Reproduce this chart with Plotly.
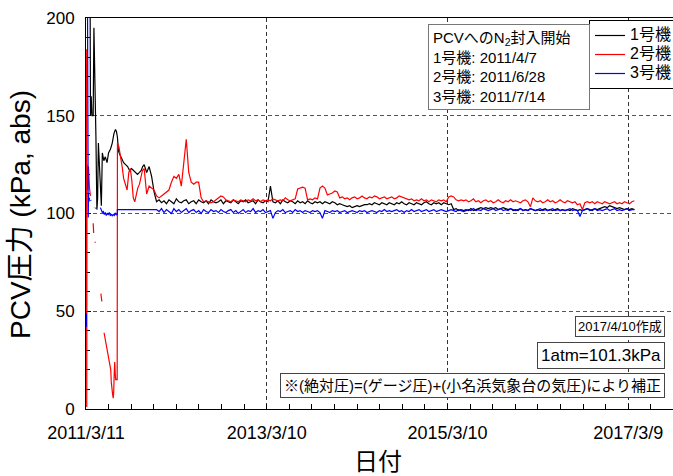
import pandas as pd
import plotly.graph_objects as go

# ---------------- data ----------------
# Early period (irregular sampling), kPa abs
u1_early_dates = ["2011-03-23", "2011-03-27", "2011-03-29", "2011-04-01", "2011-04-04", "2011-04-09",
                  "2011-04-12", "2011-04-16", "2011-04-20", "2011-04-24", "2011-04-27", "2011-04-30",
                  "2011-05-04", "2011-05-08", "2011-05-12", "2011-05-16", "2011-05-22", "2011-05-28",
                  "2011-06-04", "2011-06-10", "2011-06-18", "2011-06-25", "2011-07-02", "2011-07-08",
                  "2011-07-12", "2011-07-16", "2011-07-20", "2011-07-26", "2011-08-02", "2011-08-10",
                  "2011-08-18", "2011-08-26", "2011-09-03", "2011-09-11", "2011-09-19", "2011-09-27",
                  "2011-10-05", "2011-10-13", "2011-10-20", "2011-10-26"]
u1_early_vals = [260, 240, 150, 160, 150, 150, 195, 175, 140, 102, 108, 136,
                 125, 110, 104, 131, 127, 129, 126, 131, 133, 136, 141, 143,
                 142, 139, 132, 130, 128, 126, 125, 124, 122, 123, 122, 121,
                 120, 121, 122, 124]

u2_early_dates = ["2011-03-12", "2011-03-13", "2011-03-14", "2011-03-15", "2011-03-18", "2011-03-21",
                  "2011-03-25", "2011-03-29", "2011-04-02", "2011-04-09", "2011-04-11", "2011-04-14",
                  "2011-04-16", "2011-04-18", "2011-04-25", "2011-05-10", "2011-05-14", "2011-05-18",
                  "2011-05-23", "2011-05-27", "2011-05-30", "2011-06-04", "2011-06-09", "2011-06-13",
                  "2011-06-16", "2011-06-19", "2011-06-21", "2011-06-23", "2011-06-26", "2011-06-29",
                  "2011-07-01", "2011-07-03", "2011-07-05", "2011-07-07", "2011-07-09", "2011-07-15",
                  "2011-07-16", "2011-07-22", "2011-07-28", "2011-08-04", "2011-08-10", "2011-08-17",
                  "2011-08-24", "2011-08-31", "2011-09-06", "2011-09-12", "2011-09-18", "2011-09-24",
                  "2011-09-30", "2011-10-06", "2011-10-13", "2011-10-19", "2011-10-25"]
u2_early_vals = [184, 170, 1, 125, 112, 124,
                 113, 109, None, 95, 90, None,
                 85.5, 85, None, 59, 55, None,
                 39, 36, 34, 30, 27, 25,
                 22, 20, 14, 10, 8, 5.5,
                 9, 18, 24, 18, 15, 15,
                 136, 134, 130, 124, 118, 115,
                 112, 121, 123, 117, 108, 106,
                 110, 113, 115, 118, 122]

u3_early_dates = ["2011-03-12 00:00", "2011-03-12 12:00", "2011-03-13 00:00", "2011-03-14 00:00",
                  "2011-03-16 00:00", "2011-03-18 00:00",
                  "2011-03-19 00:00", "2011-03-20 00:00", "2011-03-21 00:00", "2011-03-23 00:00",
                  "2011-03-25 00:00", "2011-03-27 00:00",
                  "2011-03-30 00:00", "2011-03-31 00:00", "2011-04-03 00:00", "2011-04-12 00:00",
                  "2011-04-13 00:00", "2011-04-16 00:00",
                  "2011-04-19 00:00", "2011-04-20 00:00", "2011-04-24 00:00", "2011-05-08 00:00",
                  "2011-05-12 00:00", "2011-05-16 00:00",
                  "2011-05-20 00:00", "2011-05-24 00:00", "2011-05-28 00:00", "2011-06-01 00:00",
                  "2011-06-05 00:00", "2011-06-09 00:00",
                  "2011-06-13 00:00", "2011-06-17 00:00", "2011-06-21 00:00", "2011-06-25 00:00",
                  "2011-06-29 00:00", "2011-07-03 00:00",
                  "2011-07-07 00:00", "2011-07-11 00:00", "2011-07-15 00:00", "2011-07-16 00:00"]
u3_early_vals = [42, 49, None, 320, 240, 200,
                 150, 98, 110, 106, 108, None,
                 107, 106.5, None, 103, 103, None,
                 103, 102.5, None, 103, 101, 100.5,
                 101, 99.5, 100.5, 99, 100, 99.5,
                 100.5, 99, 99.5, 98.8, 99.5, 99,
                 100, 99.3, 99.5, 102]

# Later period: one reading every 10 days from 2011/11/1
grid_start = "2011-11-01"
grid_step = "10D"

u1_grid = [125, 121, 124, 119, 111, 106, 107, 105.5, 106.5, 105,
           107, 106, 105, 107.5, 106, 105.5, 106.5, 107, 105, 106,
           106.5, 105, 107, 106, 105.5, 106.5, 105, 107, 106, 105.5,
           106, 107, 105, 106.5, 106, 105.5, 107, 106, 105, 106.5,
           106, 107, 105.5, 106, 106.5, 105, 107, 106, 105.5, 106.5,
           106, 114, 106, 105.5, 106.5, 105, 107, 106, 105.5, 106.5,
           106, 105, 106.5, 105.5, 106, 105, 106.5, 105.5, 105, 106,
           105.5, 106, 105, 106, 105.5, 105, 106, 105.5, 104.5, 105,
           104.5, 104, 103.5, 104, 103, 103.5, 104, 103.5, 104, 104.5,
           104.5, 105, 104.5, 105.5, 105, 104.5, 105.5, 105, 104.5, 105.5,
           105, 104.5, 105.5, 105, 106, 105, 104.5, 105.5, 105, 104.5,
           105.5, 105, 104.5, 105.5, 106, 105, 104.5, 105.5, 105, 105.5,
           104.5, 105.5, 105, 104.5, 105, 102, 102.5, 101.5, 102, 101.5,
           102, 101.5, 102.5, 101.5, 102, 102.5, 103, 102.5, 103, 102.5,
           103, 102.5, 103, 102, 102.5, 103, 102.5, 102, 102.5, 101.5,
           102, 101.5, 102.5, 101.5, 102, 101.5, 102.5, 102, 101.5, 102,
           101.5, 102, 102.5, 101.5, 102, 101.5, 102, 102.5, 101.5, 102,
           101.5, 102, 101.5, 102.5, 102, 101.5, 102, 101.5, 102, 102.5,
           102, 101.5, 102.5, 102, 102.5, 103, 103.5, 103, 104, 103.5,
           103, 102.5, 103, 102.5, 102, 102.5, 102, 102.5, 102]

u2_grid = [123, 110, 114, 113, 112, 109, 108, 109, 110, 111,
           112, 116, 119, 118, 120, 114, 127, 138, 121, 116,
           115, 116, 116, 108, 106, 106.5, 106, 105.5, 106, 107,
           108, 109, 108.5, 107, 106.5, 106, 107, 106.5, 106, 107,
           106.5, 106, 107, 106.5, 107.5, 106.5, 107, 106, 107, 106.5,
           107, 106.5, 107.5, 107, 106.5, 107, 106.5, 108, 107, 106.5,
           107, 107.5, 112.5, 113, 113.5, 113, 107, 107.5, 107, 108,
           107.5, 113, 114, 113, 109.5, 110, 110.5, 111.5, 111, 108,
           108.5, 107.5, 108, 107, 108, 108.5, 107.5, 108, 109, 108,
           107.5, 108.5, 108, 109, 108.5, 107.5, 108, 108.5, 107.5, 108,
           108.5, 107.5, 108, 109, 108.5, 108, 107.5, 107, 107.5, 106.5,
           107, 106.5, 107.5, 106.5, 107, 106, 107, 106.5, 106, 107,
           106.5, 107, 106, 108.5, 109, 108.5, 107, 106.5, 107, 106.5,
           107, 106, 106.5, 107.5, 106, 106.5, 105.5, 106.5, 107, 106,
           106.5, 105.5, 106, 107, 106, 105.5, 106.5, 106, 107, 106,
           106.5, 106, 105.5, 106.5, 107, 106, 103.5, 108, 106.5, 106,
           106.5, 105.5, 106, 107, 106, 106.5, 105.5, 106, 107, 106,
           105.5, 106.5, 106, 105.5, 106, 104.5, 105, 102, 105.5, 106,
           105.5, 106, 105, 106, 105.5, 105, 106, 105.5, 105, 105.5,
           106, 105, 105.5, 105, 106, 105.5, 105, 106, 106.5]

u3_grid = [102, 102, 102, 102, 102, 102, 101, 102.5, 100.5, 102,
           101, 100, 102.5, 101, 102, 100.5, 101.5, 102.5, 100.5, 101.5,
           102, 100.5, 101.5, 100, 102, 101, 100.5, 102, 101, 101.5,
           100.5, 102, 101, 100.5, 101.5, 102, 100.5, 101.5, 100, 101,
           102, 100.5, 101.5, 101, 102.5, 100.5, 101.5, 101, 102, 100.5,
           101, 101.5, 97.5, 100.5, 101.5, 101, 102, 100.5, 101, 101.5,
           100.5, 102, 101, 101.5, 100.5, 101.5, 101, 100.5, 101.5, 101,
           101.5, 100.5, 97.5, 101.5, 101, 100.5, 101.5, 101, 101.5, 100.5,
           101, 101.5, 100.5, 101, 101.5, 101, 100.5, 101.5, 101, 101.5,
           100.5, 101, 101.5, 101, 100.5, 101.5, 101, 102, 101, 101.5,
           101, 101.5, 102, 101, 101.5, 100.5, 101.5, 101, 102, 101,
           101.5, 102, 101, 101.5, 102, 101, 101.5, 102, 101, 101.5,
           102, 101.5, 101, 101.5, 102, 101.5, 101, 102, 101.5, 101,
           101.5, 102, 101.5, 102.5, 101.5, 102, 101.5, 102.5, 102, 101.5,
           102, 102.5, 101.5, 102, 102.5, 101.5, 102, 101.5, 102.5, 102,
           101.5, 102, 102.5, 101.5, 102, 101.5, 102.5, 102, 101.5, 102,
           102.5, 101.5, 102, 101.5, 102, 102.5, 101.5, 102, 101.5, 102,
           101.5, 102, 102.5, 101.5, 102, 101.5, 98.5, 101.5, 102, 102.5,
           101.5, 102, 102.5, 101.5, 102, 101.5, 102, 102.5, 101.5, 102,
           102.5, 101.5, 102, 101.5, 102, 102.5, 101.5, 102, 102]

series_names = ["1号機", "2号機", "3号機"]
series_colors = ["#000000", "#ff0000", "#0000ff"]

x_tick_dates = ["2011-03-11", "2013-03-10", "2015-03-10", "2017-03-09"]
x_tick_labels = ["2011/3/11", "2013/3/10", "2015/3/10", "2017/3/9"]
x_range = ["2011-03-11", "2017-09-06"]
y_range = [0, 200]

note_n2 = "PCVへのN<sub>2</sub>封入開始<br>1号機: 2011/4/7<br>2号機: 2011/6/28<br>3号機: 2011/7/14"
note_date = "2017/4/10作成"
note_atm = "1atm=101.3kPa"
note_corr = "※(絶対圧)=(ゲージ圧)+(小名浜気象台の気圧)により補正"
y_title = "PCV圧力 (kPa, abs)"
x_title = "日付"


# ---------------- build ----------------
def build(early_dates, early_vals, grid_vals):
    gd = pd.date_range(grid_start, periods=len(grid_vals), freq=grid_step)
    ed = pd.to_datetime(early_dates, format="mixed")
    xs = list(ed.strftime("%Y-%m-%d %H:%M")) + list(gd.strftime("%Y-%m-%d %H:%M"))
    ys = list(early_vals) + list(grid_vals)
    return xs, ys


series = [build(u1_early_dates, u1_early_vals, u1_grid),
          build(u2_early_dates, u2_early_vals, u2_grid),
          build(u3_early_dates, u3_early_vals, u3_grid)]

FONT = "Liberation Sans, Arial, Noto Sans CJK JP, sans-serif"

fig = go.Figure()
for (xs, ys), nm, col in zip(series, series_names, series_colors):
    fig.add_trace(go.Scatter(x=xs, y=ys, mode="lines",
                             name="<span style='font-size:16px'>" + nm + "</span>",
                             line=dict(color=col, width=1.2), connectgaps=False))

W, H = 673, 476
L, R, T, B = 86, 0, 18, 67
PW, PH = W - L - R, H - T - B


def px(xp):
    return (xp - L) / PW


def py(yp):
    return (H - B - yp) / PH


fig.update_layout(
    width=W, height=H,
    margin=dict(l=L, r=R, t=T, b=B, autoexpand=False),
    paper_bgcolor="white", plot_bgcolor="white",
    font=dict(family=FONT, color="black"),
    legend=dict(x=px(589), y=py(20), xanchor="left", yanchor="top",
                bordercolor="black", borderwidth=1, bgcolor="white",
                font=dict(size=12, family=FONT), itemwidth=30, tracegroupgap=0),
)

fig.update_xaxes(
    type="date", range=x_range,
    tickmode="array", tickvals=x_tick_dates, ticktext=x_tick_labels,
    ticks="inside", ticklen=5, tickcolor="black",
    showline=True, linecolor="black", linewidth=1, mirror=True,
    showgrid=True, gridcolor="#333333", gridwidth=1, griddash="4px,3px",
    tickfont=dict(size=18, family=FONT), ticklabelstandoff=7,
    zeroline=False, layer="below traces", automargin=False,
    minor=dict(tickmode="linear", tick0="2011-03-11", dtick=91.25 * 86400000,
               ticks="inside", ticklen=5, tickcolor="black", showgrid=False),
)
fig.update_yaxes(
    range=y_range, tickmode="linear", tick0=0, dtick=50,
    ticks="inside", ticklen=5, tickcolor="black",
    showline=True, linecolor="black", linewidth=1, mirror=False,
    showgrid=True, gridcolor="#555555", gridwidth=1, griddash="4px,3px",
    tickfont=dict(size=17, family=FONT), ticklabelstandoff=7,
    zeroline=False, layer="below traces", automargin=False,
    minor=dict(tickmode="linear", tick0=0, dtick=10,
               ticks="inside", ticklen=4, tickcolor="black", showgrid=False),
)

ann = [
    dict(text=note_n2, x=px(428), y=py(24), xanchor="left", yanchor="top", align="left",
         width=152, font=dict(size=15), bordercolor="#777777", borderwidth=1, borderpad=4,
         bgcolor="white"),
    dict(text=note_date, x=px(665), y=py(316), xanchor="right", yanchor="top",
         font=dict(size=13), bordercolor="#444444", borderwidth=1, borderpad=2, bgcolor="white"),
    dict(text=note_atm, x=px(665), y=py(342), xanchor="right", yanchor="top",
         font=dict(size=17), bordercolor="#444444", borderwidth=1, borderpad=3, bgcolor="white"),
    dict(text=note_corr, x=px(665), y=py(373), xanchor="right", yanchor="top",
         font=dict(size=15), bordercolor="#444444", borderwidth=1, borderpad=3, bgcolor="white"),
    dict(text=y_title, x=px(20), y=py(215), xanchor="center", yanchor="middle", textangle=-90,
         font=dict(size=28)),
    dict(text=x_title, x=px(378), y=py(461), xanchor="center", yanchor="middle",
         font=dict(size=24)),
]
for a in ann:
    a.update(xref="paper", yref="paper", showarrow=False)
fig.update_layout(annotations=ann)

fig.write_html("out.html", config={"displayModeBar": False},
               post_script="document.body.style.margin='0';document.body.style.overflow='hidden';")
